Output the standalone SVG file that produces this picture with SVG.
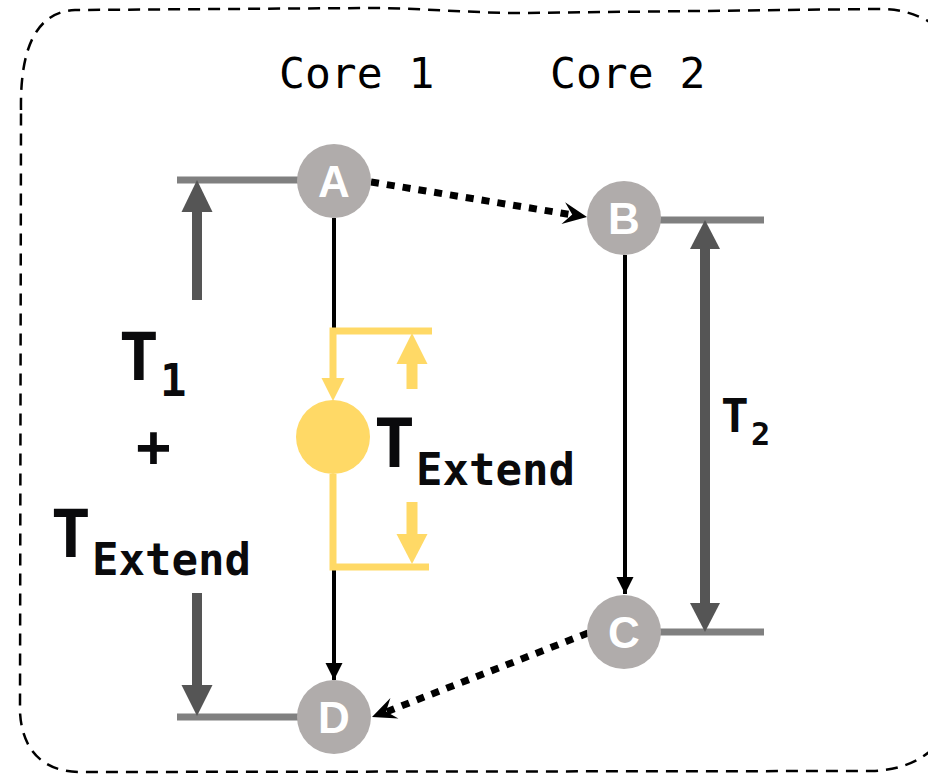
<svg xmlns="http://www.w3.org/2000/svg" width="928" height="774" viewBox="0 0 928 774">
  <style>
    .frame { fill: none; stroke: #000; stroke-width: 2.5; stroke-dasharray: 12 8; }
    .node { fill: #B0ACAB; }
    .node-label { font-family: "Liberation Sans", Arial, sans-serif; font-weight: bold; font-size: 44px; fill: #fff; text-anchor: middle; }
    .core { font-family: "DejaVu Sans Mono", "Liberation Mono", monospace; font-size: 43px; fill: #000; }
    .math { font-family: "DejaVu Sans Mono", "Liberation Mono", monospace; font-weight: bold; fill: #0a0a0c; }
    .tick { stroke: #808080; stroke-width: 7; fill: none; }
    .span { fill: #555555; }
    .flow { stroke: #000; stroke-width: 4; fill: none; }
    .msg { stroke: #000; stroke-width: 7; stroke-dasharray: 8 8; fill: none; }
    .msg-head { fill: #000; }
    .ext { stroke: #FFD966; stroke-width: 7; fill: none; }
    .ext-fill { fill: #FFD966; }
  </style>
  <defs>
    <marker id="solidHead" markerUnits="userSpaceOnUse" markerWidth="20" markerHeight="20" refX="0" refY="0" orient="auto" overflow="visible">
      <path d="M0,0 L-17,-8.5 L-17,8.5 Z" fill="#000"/>
    </marker>
  </defs>

  <rect width="928" height="774" fill="#fff"/>

  <!-- dashed outer boundary -->
  <path class="frame" d="M21,110 C20,50 35,12 75,10 L370,8 C420,8 470,13 520,13 L875,9 C900,8 918,14 940,28 L940,742 C925,758 905,770 872,771 L80,772 C45,772 22,752 20,712 Z"/>

  <!-- column headings -->
  <text class="core" x="279" y="88">Core 1</text>
  <text class="core" x="550" y="88">Core 2</text>

  <g id="connectors">
    <!-- reference ticks -->
    <line class="tick" x1="177" y1="180" x2="310" y2="180"/>
    <line class="tick" x1="177" y1="717" x2="310" y2="717"/>
    <line class="tick" x1="650" y1="220" x2="764" y2="220"/>
    <line class="tick" x1="650" y1="632" x2="764" y2="632"/>

    <!-- T1 + TExtend span -->
    <rect class="span" x="192" y="210" width="10" height="90"/>
    <path class="span" d="M197,180 L212.5,212 L181.5,212 Z"/>
    <rect class="span" x="192" y="593" width="10" height="94"/>
    <path class="span" d="M197,716 L212.5,685 L181.5,685 Z"/>

    <!-- T2 span -->
    <rect class="span" x="700" y="246" width="10" height="360"/>
    <path class="span" d="M705,220 L720,249 L690,249 Z"/>
    <path class="span" d="M705,632 L720,603 L690,603 Z"/>

    <!-- Core 1 program order -->
    <line class="flow" x1="334" y1="218" x2="334" y2="331"/>
    <line class="flow" x1="334" y1="567" x2="334" y2="680" marker-end="url(#solidHead)"/>

    <!-- Core 2 program order -->
    <line class="flow" x1="625" y1="255" x2="625" y2="594" marker-end="url(#solidHead)"/>

    <!-- cross-core messages -->
    <line class="msg" x1="371" y1="182" x2="573" y2="215"/>
    <path class="msg-head" d="M587,217 L565.1,202.3 L572.2,214.6 L561.5,224 Z"/>
    <line class="msg" x1="588" y1="633" x2="386" y2="712"/>
    <path class="msg-head" d="M372,717 L390.4,698 L386,711.6 L398.4,718.5 Z"/>

    <!-- extension window -->
    <path class="ext" d="M432,331 L333,331 L333,380"/>
    <path class="ext-fill" d="M333,401 L344.5,378 L321.5,378 Z"/>
    <path class="ext" d="M333,474 L333,567 L429,567"/>
    <rect class="ext-fill" x="406.5" y="362" width="11" height="27"/>
    <path class="ext-fill" d="M412,333 L427.5,364 L396.5,364 Z"/>
    <rect class="ext-fill" x="406.5" y="502" width="11" height="34"/>
    <path class="ext-fill" d="M412,564 L427.5,534 L396.5,534 Z"/>
  </g>

  <g id="node-A">
    <circle class="node" cx="334" cy="181" r="37"/>
    <text class="node-label" x="334" y="197">A</text>
  </g>
  <g id="node-B">
    <circle class="node" cx="624" cy="218" r="37"/>
    <text class="node-label" x="624" y="234">B</text>
  </g>
  <g id="node-C">
    <circle class="node" cx="624" cy="632" r="37"/>
    <text class="node-label" x="624" y="648">C</text>
  </g>
  <g id="node-D">
    <circle class="node" cx="334" cy="717" r="37"/>
    <text class="node-label" x="334" y="733">D</text>
  </g>
  <g id="node-extend">
    <circle class="ext-fill" cx="333" cy="437" r="37"/>
  </g>

  <!-- duration labels -->
  <g id="label-t1-extend">
    <text class="math" x="119" y="380" font-size="66">T</text>
    <text class="math" x="160" y="396" font-size="44">1</text>
    <text class="math" x="153.5" y="467" font-size="58" text-anchor="middle">+</text>
    <text class="math" x="51" y="557" font-size="66">T</text>
    <text class="math" x="92" y="575" font-size="44">Extend</text>
  </g>
  <g id="label-extend">
    <text class="math" x="374" y="467" font-size="68">T</text>
    <text class="math" x="416" y="485" font-size="44">Extend</text>
  </g>
  <g id="label-t2">
    <text class="math" x="721" y="432" font-size="46">T</text>
    <text class="math" x="751" y="445" font-size="32">2</text>
  </g>
</svg>
